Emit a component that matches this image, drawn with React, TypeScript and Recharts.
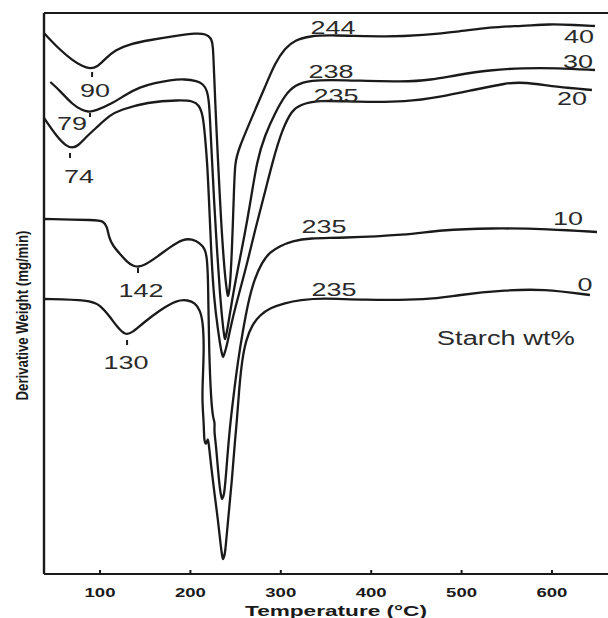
import {
  LineChart,
  Line,
  XAxis,
  YAxis,
  ReferenceLine,
  ReferenceDot,
} from "recharts";

type Point = { t: number; v: number };
const toPoints = (rows: number[][]): Point[] =>
  rows.map(([t, v]) => ({ t, v }));

// DTG curves: temperature (°C) vs derivative weight (curves offset vertically)
const starch40 = toPoints([
  [38, 54.1], [45, 53.4], [56, 52.4], [69, 51.4], [80, 50.8], [89, 50.5],
  [97, 50.7], [105.5, 51.5], [116.6, 52.4], [133, 53.0], [155, 53.4],
  [183, 53.8], [207, 54.1], [217, 54.0], [223, 53.6], [225, 52.9],
  [226, 50.4], [228.3, 45.4], [230.5, 41.4], [233.8, 35.4], [237.2, 30.9],
  [239.4, 28.9], [240.9, 28.0], [241.6, 27.7], [242.3, 28.0], [243.8, 28.7],
  [246, 32.4], [248.2, 38.4], [249.3, 41.1], [252.7, 42.4], [271.5, 46.4],
  [282.5, 48.7], [293.6, 51.1], [304.6, 52.6], [315.7, 53.4], [332.3, 53.8],
  [354.4, 53.9], [420.8, 53.7], [457.3, 53.9], [494.9, 54.2], [531.4, 54.7],
  [567.9, 54.8], [597.8, 55.0], [625.4, 54.9], [647.6, 54.8],
]);

const starch30 = toPoints([
  [45, 49.2], [56, 48.3], [70, 46.9], [80, 46.4], [86.7, 46.2], [94.5, 46.3],
  [114.4, 47.1], [127.7, 47.9], [144.2, 48.7], [160.8, 49.1], [177.4, 49.4],
  [194, 49.5], [207.3, 49.3], [213.9, 49.0], [218.4, 48.4], [220.6, 47.2],
  [221.7, 45.4], [223.9, 41.4], [226.1, 37.4], [229.4, 32.4], [232.7, 27.9],
  [236.1, 24.6], [237.6, 23.7], [238.3, 23.4], [239.0, 23.7], [240.5, 24.2],
  [246, 27.4], [252.7, 30.6], [259.3, 33.6], [265.9, 36.9], [273.7, 41.4],
  [282.5, 43.9], [293.6, 46.1], [304.6, 47.9], [315.7, 48.9], [332.3, 49.4],
  [365.5, 49.4], [439.6, 49.2], [465, 49.4], [494.9, 49.9], [531.4, 50.4],
  [567.9, 50.6], [605.5, 50.6], [647.6, 50.4],
]);

const starch20 = toPoints([
  [38, 45.6], [52.4, 43.7], [62.4, 42.8], [69, 42.6], [75.7, 42.8],
  [83.4, 43.6], [96.7, 44.7], [111.1, 45.9], [122.1, 46.4], [152, 47.2],
  [188.5, 47.4], [202.9, 47.3], [209.5, 46.9], [213.9, 45.9], [216.2, 43.7],
  [218.4, 41.4], [220.6, 37.4], [222.8, 32.4], [226.1, 27.4], [230.5, 24.4],
  [233.8, 22.4], [235.3, 21.9], [236.1, 21.6], [236.9, 21.9], [239.4, 22.4],
  [246, 25.4], [254.9, 28.4], [263.7, 31.4], [271.5, 34.4], [280.3, 37.4],
  [291.4, 41.4], [301.3, 44.4], [312.4, 46.4], [321.2, 46.9], [340, 47.4],
  [384.3, 47.2], [439.6, 47.2], [476.1, 47.7], [512.6, 48.4], [550.2, 49.1],
  [567.9, 49.2], [605.5, 48.7], [644.2, 48.4],
]);

const starch10 = toPoints([
  [38, 35.5], [96.7, 35.4], [103.3, 35.3], [107.7, 34.8], [110, 33.6],
  [114.4, 32.8], [122.1, 32.0], [129.9, 31.2], [136.5, 30.8], [142, 30.7],
  [149.8, 30.9], [163.1, 31.7], [177.4, 32.7], [191.8, 33.5], [201.8, 33.5],
  [210.6, 33.1], [216.2, 32.5], [218.4, 31.6], [219.5, 29.4], [219.8, 27.4],
  [220.6, 22.4], [222.8, 17.4], [225, 15.6], [227.2, 15.1], [226.1, 14.4],
  [228.3, 12.9], [230.5, 10.4], [232.7, 8.4], [234.2, 7.7], [235, 7.4],
  [235.8, 7.7], [237.2, 7.8], [239.4, 9.9], [242.7, 13.9], [247.1, 17.4],
  [252.7, 21.4], [258.2, 24.4], [263.7, 27.1], [270.4, 29.4], [279.2, 31.2],
  [288.1, 32.2], [299.1, 32.8], [312.4, 33.3], [332.3, 33.6], [365.5, 33.6],
  [439.6, 33.9], [476.1, 34.4], [531.4, 34.6], [597.8, 34.5], [649.8, 34.2],
]);

const starch0 = toPoints([
  [38, 27.5], [88.9, 27.4], [100, 26.9], [111.1, 25.7], [119.9, 24.6],
  [127.7, 23.9], [135.4, 24.1], [147.6, 25.1], [166.4, 26.4], [185.2, 27.4],
  [197.3, 27.4], [205.1, 27.1], [210.6, 26.4], [213.9, 25.2], [215, 22.7],
  [213.9, 19.9], [212.8, 17.4], [215, 14.9], [215, 13.4], [217.3, 12.8],
  [219.5, 13.8], [220.6, 12.7], [222.8, 10.9], [226.1, 8.4], [230.5, 5.4],
  [233.8, 2.6], [235.3, 1.7], [236.1, 1.4], [236.9, 1.7], [238.3, 1.9],
  [241.6, 5.4], [246, 9.4], [249.3, 13.4], [251.5, 15.4], [253.8, 18.4],
  [257.1, 21.4], [261.5, 23.4], [268.1, 24.9], [277, 25.9], [288.1, 26.6],
  [304.6, 27.1], [321.2, 27.4], [346.7, 27.6], [387.6, 27.4], [465, 27.4],
  [494.9, 27.9], [550.2, 28.4], [590, 28.5], [642, 27.9],
]);

const curves = [starch40, starch30, starch20, starch10, starch0];

const tempTicks = [100, 200, 300, 400, 500, 600];

// peak temperatures written next to the curves
const peakNotes = [
  { text: "90", t: 94.5, v: 48.4 },
  { text: "79", t: 69, v: 45.1 },
  { text: "74", t: 76.8, v: 39.8 },
  { text: "244", t: 357.7, v: 54.7 },
  { text: "238", t: 355.5, v: 50.3 },
  { text: "235", t: 361, v: 47.9 },
  { text: "142", t: 145.4, v: 28.4 },
  { text: "235", t: 347.8, v: 34.8 },
  { text: "130", t: 128.8, v: 21.2 },
  { text: "235", t: 358.9, v: 28.5 },
];

// starch content of each curve
const contentNotes = [
  { text: "40", t: 629.9, v: 53.8 },
  { text: "30", t: 628.8, v: 51.3 },
  { text: "20", t: 622.1, v: 47.6 },
  { text: "10", t: 617.7, v: 35.6 },
  { text: "0", t: 636.5, v: 29.0 },
];

// little marks under the low-temperature minima: [t, vTop, vBottom]
const minimaMarks = [
  [91.2, 50.2, 49.7],
  [88.9, 46.1, 45.7],
  [66.8, 42.1, 41.6],
  [142, 30.6, 30.1],
  [129.9, 23.4, 22.9],
];

const FONT = '"Liberation Sans", Arial, sans-serif';
const INK = "#1a1a1a";

const noteLabel =
  (text: string, size = 19, perChar = 15) =>
  (props: any) => {
    const vb = props.viewBox ?? { x: 0, y: 0, width: 0, height: 0 };
    const cx = vb.x + vb.width / 2;
    const cy = vb.y + vb.height / 2;
    return (
      <text
        x={cx}
        y={cy}
        textAnchor="middle"
        dominantBaseline="central"
        fontFamily={FONT}
        fontSize={size}
        fill="#2a2a2a"
        textLength={text.length * perChar}
        lengthAdjust="spacingAndGlyphs"
      >
        {text}
      </text>
    );
  };

const TempTick = (props: any) => {
  const { x, y, payload } = props;
  return (
    <text
      x={x}
      y={y + 23}
      textAnchor="middle"
      fontFamily={FONT}
      fontSize={13}
      fontWeight="bold"
      fill={INK}
      textLength={31}
      lengthAdjust="spacingAndGlyphs"
    >
      {payload.value}
    </text>
  );
};

export default function App() {
  return (
    <div
      style={{
        position: "absolute",
        left: 0,
        top: 0,
        width: 608,
        height: 618,
        background: "#fff",
      }}
    >
      <LineChart
        width={608}
        height={618}
        margin={{ top: 13, right: 0, bottom: 0, left: 0 }}
      >
        <XAxis
          type="number"
          dataKey="t"
          domain={[38, 662]}
          allowDataOverflow
          ticks={tempTicks}
          height={44}
          axisLine={{ stroke: INK, strokeWidth: 2 }}
          tickLine={{ stroke: INK, strokeWidth: 2 }}
          tickSize={-4}
          tickMargin={4}
          tick={<TempTick />}
          label={(p: any) => {
            const vb = p.viewBox;
            return (
              <text
                x={vb.x + vb.width / 2 + 10}
                y={vb.y + 42}
                textAnchor="middle"
                fontFamily={FONT}
                fontSize={14}
                fontWeight="bold"
                fill={INK}
                textLength={182}
                lengthAdjust="spacingAndGlyphs"
              >
                Temperature (°C)
              </text>
            );
          }}
        />
        <YAxis
          type="number"
          domain={[0, 56.1]}
          allowDataOverflow
          width={44}
          tick={false}
          tickLine={false}
          axisLine={{ stroke: INK, strokeWidth: 2.4 }}
          label={(p: any) => {
            const vb = p.viewBox;
            const cx = vb.x + vb.width / 2;
            const cy = vb.y + vb.height / 2 + 22;
            return (
              <text
                x={cx}
                y={cy}
                transform={`rotate(-90 ${cx} ${cy})`}
                textAnchor="middle"
                dominantBaseline="central"
                fontFamily={FONT}
                fontSize={17}
                fontWeight="bold"
                fill={INK}
                textLength={170}
                lengthAdjust="spacingAndGlyphs"
              >
                Derivative Weight (mg/min)
              </text>
            );
          }}
        />
        <ReferenceLine y={56.1} stroke={INK} strokeWidth={2} />
        {curves.map((d, i) => (
          <Line
            key={i}
            data={d}
            dataKey="v"
            type="basis"
            stroke={INK}
            strokeWidth={2.3}
            dot={false}
            activeDot={false}
            isAnimationActive={false}
          />
        ))}
        {minimaMarks.map(([t, a, b], i) => (
          <ReferenceLine
            key={`m${i}`}
            segment={[
              { x: t, y: a },
              { x: t, y: b },
            ]}
            stroke={INK}
            strokeWidth={2}
          />
        ))}
        {[...peakNotes, ...contentNotes].map((n, i) => (
          <ReferenceDot
            key={`n${i}`}
            x={n.t}
            y={n.v}
            r={0}
            fill="none"
            stroke="none"
            label={noteLabel(n.text)}
          />
        ))}
        <ReferenceDot
          x={549}
          y={23.6}
          r={0}
          fill="none"
          stroke="none"
          label={noteLabel("Starch wt%", 20, 13.8)}
        />
      </LineChart>
    </div>
  );
}
